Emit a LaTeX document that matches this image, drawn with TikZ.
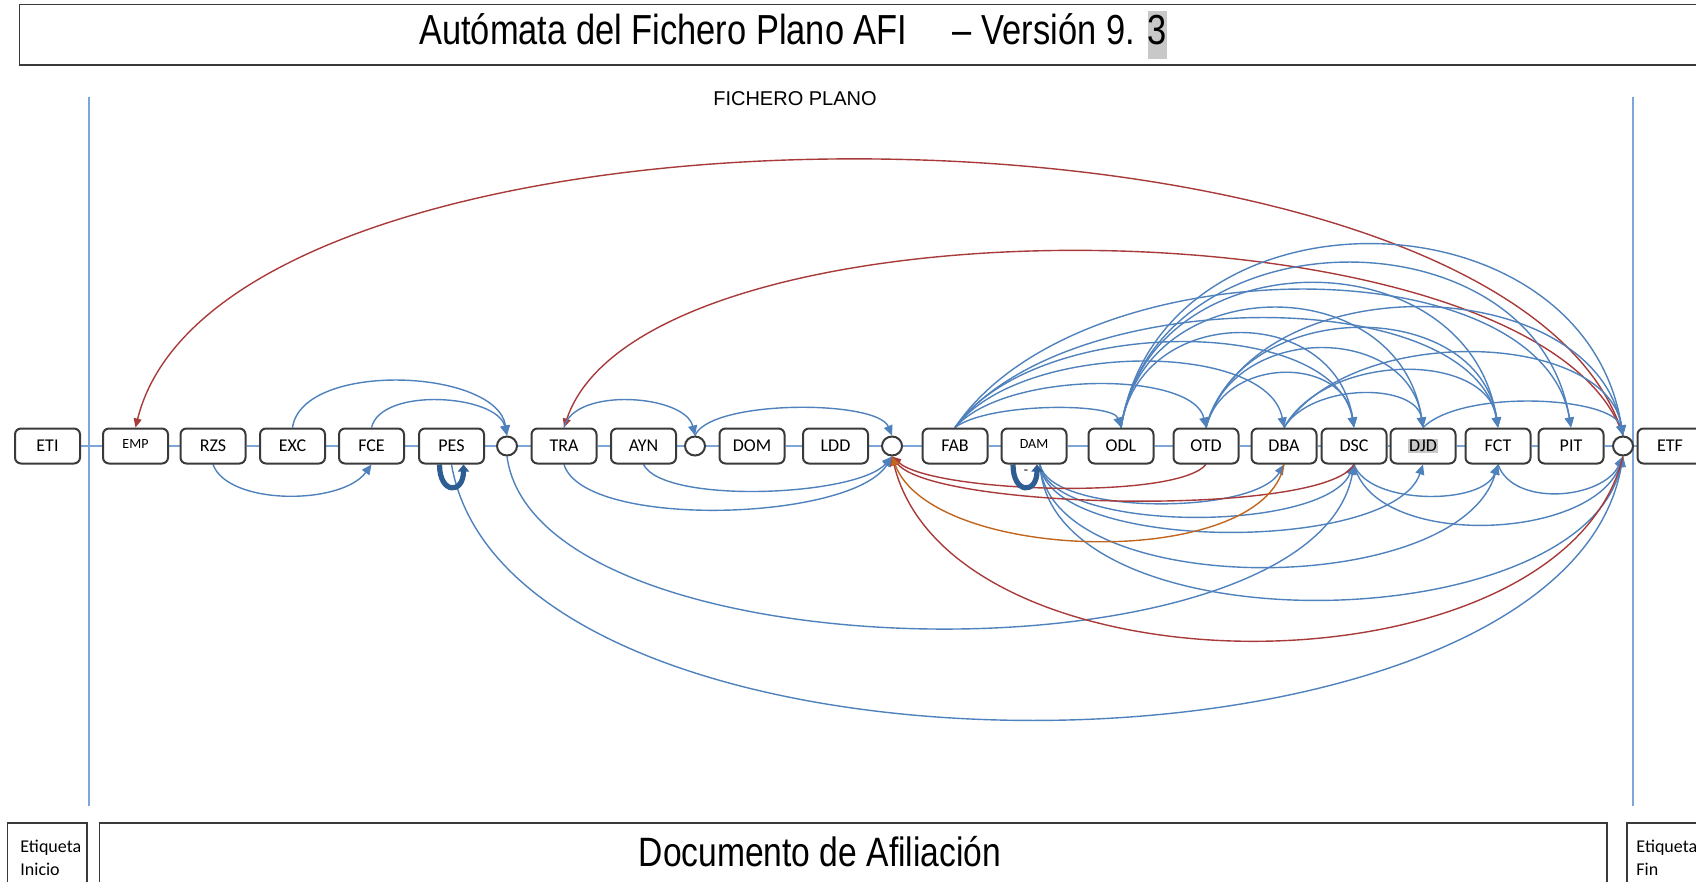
\documentclass[tikz,border=0pt]{standalone}
\usepackage{fontspec}
\setmainfont{Carlito}
\newfontfamily\arialn[FakeStretch=0.82]{Liberation Sans}
\newfontfamily\arialp{Liberation Sans}
\usetikzlibrary{arrows.meta,calc,shapes.geometric}
\pgfdeclarelayer{bg}
\pgfsetlayers{bg,main}
\definecolor{lblue}{HTML}{7DA5D8}
\definecolor{ablue}{HTML}{4F81BD}
\definecolor{dred}{HTML}{A83A3A}
\definecolor{orng}{HTML}{C0661E}
\definecolor{dkblue}{HTML}{2E5D93}
\definecolor{bord}{HTML}{3A3A3A}
\definecolor{hl}{HTML}{C8C8C8}
\begin{document}
\begin{tikzpicture}[x=0.5pt,y=-0.5pt,
  box/.style={draw=bord,line width=1pt,rounded corners=3pt,fill=white,minimum width=32.5pt,minimum height=17.5pt,inner sep=0pt,font=\fontsize{9}{10}\selectfont},
  sbox/.style={box,font=\fontsize{7}{8}\selectfont},
  circ/.style={draw=bord,line width=1pt,ellipse,fill=white,minimum width=10pt,minimum height=9.5pt,inner sep=0pt},
  hline/.style={draw=lblue,line width=1pt},
  barc/.style={draw=ablue,line width=0.7pt,-{Triangle[length=5pt,width=4.5pt]}},
  rarc/.style={draw=dred,line width=0.7pt,-{Triangle[length=4.5pt,width=4pt]}},
  oarc/.style={draw=orng,line width=0.7pt,-{Triangle[length=4.5pt,width=4pt]}},
  loopst/.style={draw=dkblue,line width=2.6pt,-{Triangle[length=3.5pt,width=5.5pt]}},
  frame/.style={draw=bord,line width=0.9pt},
]
\useasboundingbox (0,0) rectangle (1696,882);
\clip (0,0) rectangle (1696,882);

% title
\draw[frame] (19.5,4.5) rectangle (1720,65);
\node[inner sep=0pt] (title) at (793,35) {\arialn\fontsize{21}{24}\selectfont Autómata del Fichero Plano AFI\hspace{18pt} – Versión 9. {\setlength{\fboxsep}{0pt}\colorbox{hl}{\strut 3}}};
\node[inner sep=0pt] (fp) at (795,99) {\arialp\fontsize{10}{12}\selectfont FICHERO PLANO};

% vertical lines
\draw[draw=lblue,line width=1pt] (89,97) -- (89,806);
\draw[draw=lblue,line width=1pt] (1633,97) -- (1633,806);

% nodes
\node[box] (ETI) at (47.5,446) {ETI};
\node[sbox] (EMP) at (135.5,446) {\raisebox{2pt}{EMP}};
\node[box] (RZS) at (213,446) {RZS};
\node[box] (EXC) at (292.5,446) {EXC};
\node[box] (FCE) at (371.5,446) {FCE};
\node[box] (PES) at (451.5,446) {PES};
\node[circ] (C1) at (507,446) {};
\node[box] (TRA) at (564,446) {TRA};
\node[box] (AYN) at (643.5,446) {AYN};
\node[circ] (C2) at (695,446) {};
\node[box] (DOM) at (752,446) {DOM};
\node[box] (LDD) at (835.5,446) {LDD};
\node[circ] (C3) at (892,446) {};
\node[box] (FAB) at (955,446) {FAB};
\node[sbox] (DAM) at (1034,446) {\raisebox{2pt}{DAM}};
\node[box] (ODL) at (1121,446) {ODL};
\node[box] (OTD) at (1206,446) {OTD};
\node[box] (DBA) at (1284,446) {DBA};
\node[box] (DSC) at (1354,446) {DSC};
\node[box] (DJD) at (1423,446) {{\setlength{\fboxsep}{0.6pt}\colorbox{hl}{DJD}}};
\node[box] (FCT) at (1498,446) {FCT};
\node[box] (PIT) at (1571,446) {PIT};
\node[circ] (C4) at (1623,446) {};
\node[box] (ETF) at (1670,446) {ETF};
\node[inner sep=0pt,font=\fontsize{7}{7}\selectfont] (dash) at (1026,472) {-};

% bottom
\draw[frame] (7.5,823) rectangle (87,900);
\node[anchor=north west,align=left,inner sep=0pt,font=\fontsize{9}{11.5}\selectfont] (ei) at (20,840) {Etiqueta\\ Inicio};
\draw[frame] (99.5,823) rectangle (1607,900);
\node[inner sep=0pt] (doc) at (820,852) {\arialn\fontsize{20.5}{24}\selectfont Documento de Afiliación};
\draw[frame] (1627,823) rectangle (1720,900);
\node[anchor=north west,align=left,inner sep=0pt,font=\fontsize{9}{11.5}\selectfont] (ef) at (1636,840) {Etiqueta\\Fin};

\begin{pgfonlayer}{bg}
% main line
\foreach \a/\b in {ETI/EMP,EMP/RZS,RZS/EXC,EXC/FCE,FCE/PES,PES/C1,C1/TRA,TRA/AYN,AYN/C2,C2/DOM,DOM/LDD,LDD/C3,C3/FAB,FAB/DAM,DAM/ODL,ODL/OTD,OTD/DBA,DBA/DSC,DSC/DJD,DJD/FCT,FCT/PIT,PIT/C4,C4/ETF}
  \draw[hline] (\a) -- (\b);

% red long arcs on top
\draw[rarc] (C4.north) .. controls +(-110,-362) and +(90,-362) .. (EMP.north);
\draw[rarc] (C4.north) .. controls +(-80,-240) and +(80,-240) .. (TRA.north);

% left top arcs
\draw[barc] (EXC.north) .. controls +(10,-67) and +(-10,-67) .. (C1.north);
\draw[barc] (FCE.north) .. controls +(10,-41) and +(-10,-41) .. (C1.north);
\draw[barc] (TRA.north) .. controls +(10,-41) and +(-10,-41) .. (C2.north);
\draw[barc] (C2.north) .. controls +(15,-36) and +(-15,-36) .. (C3.north);

% right top arcs
\draw[barc] (FAB.north) .. controls +(33,-25) and +(-8,-25) .. (ODL.north);
\draw[barc] (FAB.north) .. controls +(50,-57) and +(-13,-57) .. (OTD.north);
\draw[barc] (FAB.north) .. controls +(66,-87) and +(-16,-87) .. (DBA.north);
\draw[barc] (FAB.north) .. controls +(80,-113) and +(-20,-113) .. (DSC.north);
\draw[barc] (FAB.north) .. controls +(109,-145) and +(-27,-145) .. (FCT.north);
\draw[barc] (FAB.north) .. controls +(123,-183) and +(-31,-183) .. (PIT.north);
\draw[barc] (ODL.north) .. controls +(19,-125) and +(-19,-125) .. (DSC.north);
\draw[barc] (ODL.north) .. controls +(24,-159) and +(-24,-159) .. (DJD.north);
\draw[barc] (ODL.north) .. controls +(30,-192) and +(-30,-192) .. (FCT.north);
\draw[barc] (ODL.north) .. controls +(36,-219) and +(-36,-219) .. (PIT.north);
\draw[barc] (ODL.north) .. controls +(40,-249) and +(-40,-249) .. (C4.north);
\draw[barc] (OTD.north) .. controls +(18,-72) and +(-10,-72) .. (DSC.north);
\draw[barc] (OTD.north) .. controls +(26,-105) and +(-15,-105) .. (DJD.north);
\draw[barc] (OTD.north) .. controls +(35,-132) and +(-20,-132) .. (FCT.north);
\draw[barc] (OTD.north) .. controls +(50,-165) and +(-30,-165) .. (C4.north);
\draw[barc] (DBA.north) .. controls +(28,-45) and +(-7,-45) .. (DJD.north);
\draw[barc] (DBA.north) .. controls +(43,-76) and +(-11,-76) .. (FCT.north);
\draw[barc] (DBA.north) .. controls +(68,-105) and +(-17,-105) .. (C4.north);
\draw[barc] (DJD.north) .. controls +(40,-39) and +(-10,-39) .. (C4.north);

% bottom left
\draw[barc] (RZS.south) .. controls +(15,41) and +(-30,41) .. (FCE.south);
\draw[barc] (PES.south) .. controls +(60,345) and +(-60,345) .. (C4.south);
\draw[barc] (C1.south) .. controls +(30,223) and +(-40,223) .. (DSC.south);
\draw[barc] (TRA.south) .. controls +(20,65) and +(-40,65) .. (C3.south);
\draw[barc] (AYN.south) .. controls +(20,40) and +(-35,40) .. (C3.south);

% bottom right blue
\draw[barc] ($(DAM.south)+(6,0)$) .. controls +(10,51) and +(-30,51) .. (DBA.south);
\draw[barc] ($(DAM.south)+(6,0)$) .. controls +(10,69) and +(-30,69) .. (DSC.south);
\draw[barc] ($(DAM.south)+(6,0)$) .. controls +(10,89) and +(-30,89) .. (DJD.south);
\draw[barc] ($(DAM.south)+(6,0)$) .. controls +(10,136) and +(-40,136) .. (FCT.south);
\draw[barc] ($(DAM.south)+(6,0)$) .. controls +(10,185) and +(-40,185) .. (C4.south);
\draw[barc] (DSC.south) .. controls +(15,41) and +(-15,41) .. (FCT.south);
\draw[barc] (DSC.south) .. controls +(20,85) and +(-30,85) .. (C4.south);
\draw[barc] (FCT.south) .. controls +(15,43) and +(-20,43) .. (C4.south);

% bottom red / orange
\draw[rarc] (OTD.south) .. controls +(-30,36) and +(40,36) .. (C3.south);
\draw[rarc] (DSC.south) .. controls +(-30,53) and +(40,53) .. (C3.south);
\draw[rarc] (C4.south) .. controls +(-60,245) and +(60,245) .. (C3.south);
\draw[oarc] (DBA.south) .. controls +(-20,107) and +(40,107) .. (C3.south);

% self loops
\draw[loopst] ($(PES.south)+(-12,0)$) .. controls +(0,30) and +(0,30) .. ($(PES.south)+(12,0)$);
\draw[loopst] ($(DAM.south)+(-21,0)$) .. controls +(0,30) and +(0,30) .. ($(DAM.south)+(3,0)$);
\end{pgfonlayer}
\end{tikzpicture}
\end{document}
